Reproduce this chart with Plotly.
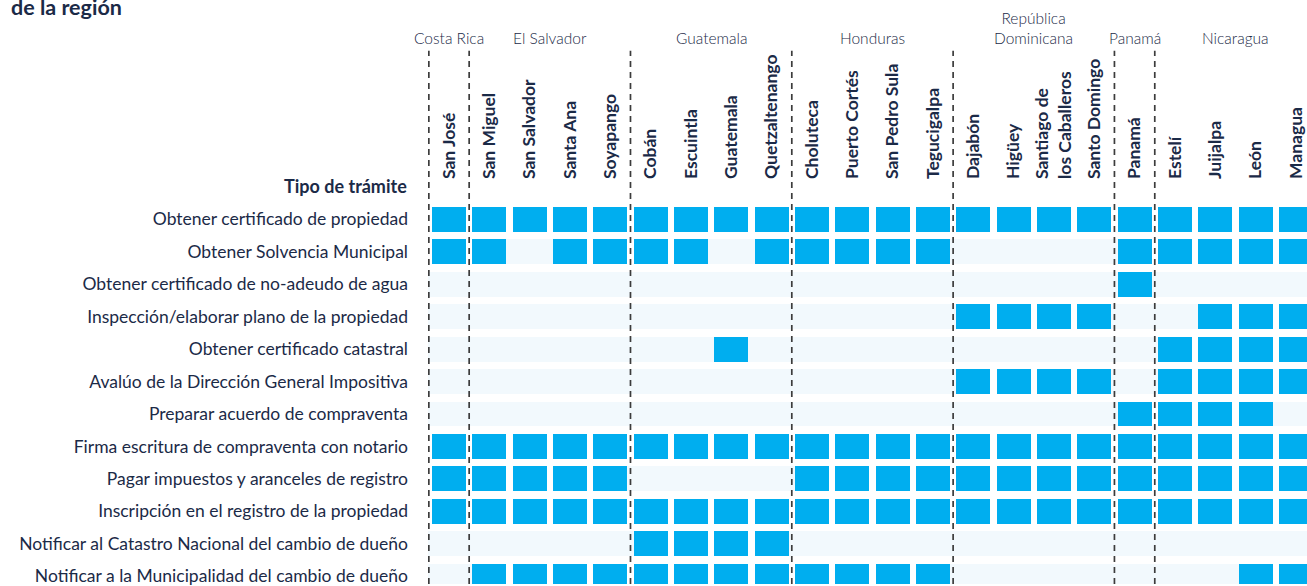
import plotly.graph_objects as go

# ---------------- data ----------------
title_text = "de la región"
row_header = "Tipo de trámite"

tramites = [
    "Obtener certificado de propiedad",
    "Obtener Solvencia Municipal",
    "Obtener certificado de no-adeudo de agua",
    "Inspección/elaborar plano de la propiedad",
    "Obtener certificado catastral",
    "Avalúo de la Dirección General Impositiva",
    "Preparar acuerdo de compraventa",
    "Firma escritura de compraventa con notario",
    "Pagar impuestos y aranceles de registro",
    "Inscripción en el registro de la propiedad",
    "Notificar al Catastro Nacional del cambio de dueño",
    "Notificar a la Municipalidad del cambio de dueño",
]

cities = [
    "San José",
    "San Miguel", "San Salvador", "Santa Ana", "Soyapango",
    "Cobán", "Escuintla", "Guatemala", "Quetzaltenango",
    "Choluteca", "Puerto Cortés", "San Pedro Sula", "Tegucigalpa",
    "Dajabón", "Higüey", "Santiago de<br>los Caballeros", "Santo Domingo",
    "Panamá",
    "Estelí", "Juijalpa", "León", "Managua",
]

countries = ["Costa Rica", "El Salvador", "Guatemala", "Honduras",
             "República<br>Dominicana", "Panamá", "Nicaragua"]
cities_per_country = [1, 4, 4, 4, 4, 1, 4]

# 1 = trámite required in that city (columns follow `cities`)
#            CR  El Salvador  Guatemala   Honduras    Rep. Dom.   PA  Nicaragua
req_01 = [1, 1, 1, 1, 1, 1, 1, 1, 1, 1, 1, 1, 1, 1, 1, 1, 1, 1, 1, 1, 1, 1]
req_02 = [1, 1, 0, 1, 1, 1, 1, 0, 1, 1, 1, 1, 1, 0, 0, 0, 0, 1, 1, 1, 1, 1]
req_03 = [0, 0, 0, 0, 0, 0, 0, 0, 0, 0, 0, 0, 0, 0, 0, 0, 0, 1, 0, 0, 0, 0]
req_04 = [0, 0, 0, 0, 0, 0, 0, 0, 0, 0, 0, 0, 0, 1, 1, 1, 1, 0, 0, 1, 1, 1]
req_05 = [0, 0, 0, 0, 0, 0, 0, 1, 0, 0, 0, 0, 0, 0, 0, 0, 0, 0, 1, 1, 1, 1]
req_06 = [0, 0, 0, 0, 0, 0, 0, 0, 0, 0, 0, 0, 0, 1, 1, 1, 1, 0, 1, 1, 1, 1]
req_07 = [0, 0, 0, 0, 0, 0, 0, 0, 0, 0, 0, 0, 0, 0, 0, 0, 0, 1, 1, 1, 1, 0]
req_08 = [1, 1, 1, 1, 1, 1, 1, 1, 1, 1, 1, 1, 1, 1, 1, 1, 1, 1, 1, 1, 1, 1]
req_09 = [1, 1, 1, 1, 1, 0, 0, 0, 0, 1, 1, 1, 1, 1, 1, 1, 1, 1, 1, 1, 1, 1]
req_10 = [1, 1, 1, 1, 1, 1, 1, 1, 1, 1, 1, 1, 1, 1, 1, 1, 1, 1, 1, 1, 1, 1]
req_11 = [0, 0, 0, 0, 0, 1, 1, 1, 1, 0, 0, 0, 0, 0, 0, 0, 0, 0, 0, 0, 0, 0]
req_12 = [0, 1, 1, 1, 1, 1, 1, 1, 1, 1, 1, 1, 1, 0, 0, 0, 0, 0, 0, 0, 1, 1]

requirements = [req_01, req_02, req_03, req_04, req_05, req_06,
                req_07, req_08, req_09, req_10, req_11, req_12]

# ---------------- styling / geometry ----------------
W, H = 1307, 586
BLUE = "#00AEEF"
LIGHT = "#F2F9FD"
NAVY = "#1B2A47"
FONT = "Lato"

col_pitch = 40.33      # px per column
row_pitch = 32.6       # px per row
cell_w_px = 34
cell_h_px = 25
first_col_center_px = 449
first_row_center_px = 219.5

m_l, m_r, m_t, m_b = 428, 0, 192, 0
plot_w = W - m_l - m_r
plot_h = H - m_t - m_b

x_range = [(m_l - first_col_center_px) / col_pitch,
           (W - m_r - first_col_center_px) / col_pitch]
y_range = [(H - m_b - first_row_center_px) / row_pitch,
           (m_t - first_row_center_px) / row_pitch]

cw = cell_w_px / col_pitch
gap = (col_pitch - cell_w_px) / col_pitch
ch = cell_h_px / row_pitch


def py(p):
    """pixel y (from top) -> paper y"""
    return (H - m_b - p) / plot_h


def px(p):
    """pixel x (from left) -> paper x"""
    return (p - m_l) / plot_w


# cells
on_y, on_base, on_len = [], [], []
off_y, off_base, off_len = [], [], []
for r, row in enumerate(requirements):
    for c, v in enumerate(row):
        if v:
            on_y.append(r); on_base.append(c - cw / 2); on_len.append(cw)
        else:
            off_y.append(r); off_base.append(c - cw / 2 - gap); off_len.append(cw + 2 * gap)

fig = go.Figure()
fig.add_trace(go.Bar(orientation="h", y=off_y, x=off_len, base=off_base,
                     width=ch, marker=dict(color=LIGHT, line=dict(width=0)),
                     hoverinfo="skip", showlegend=False))
fig.add_trace(go.Bar(orientation="h", y=on_y, x=on_len, base=on_base,
                     width=ch, marker=dict(color=BLUE, line=dict(width=0)),
                     hoverinfo="skip", showlegend=False))

# country separators and labels
shapes, annotations = [], []
start = 0
for name, n in zip(countries, cities_per_country):
    shapes.append(dict(type="line", xref="x", yref="paper",
                       x0=start - 0.5, x1=start - 0.5, y0=0, y1=py(50),
                       line=dict(color="#3c3c3c", width=1.7, dash="6px,5px"),
                       layer="above"))
    annotations.append(dict(text=name, xref="x", yref="paper",
                            x=start + (n - 1) / 2, y=py(48),
                            xanchor="center", yanchor="bottom", showarrow=False,
                            font=dict(family=FONT, size=15.5, color=NAVY, weight=300)))
    start += n

annotations.append(dict(text=row_header, xref="paper", yref="paper",
                        x=px(409), y=py(186), xanchor="right", yanchor="middle",
                        showarrow=False,
                        font=dict(family=FONT, size=18, color=NAVY, weight=700)))
annotations.append(dict(text=title_text, xref="paper", yref="paper",
                        x=px(9), y=py(21), xanchor="left", yanchor="bottom",
                        showarrow=False,
                        font=dict(family=FONT, size=21.5, color=NAVY, weight=700)))

fig.update_layout(
    width=W, height=H,
    margin=dict(l=m_l, r=m_r, t=m_t, b=m_b, pad=0),
    paper_bgcolor="white", plot_bgcolor="white",
    barmode="overlay", bargap=0,
    shapes=shapes, annotations=annotations,
    xaxis=dict(range=x_range, side="top", tickmode="array",
               tickvals=list(range(len(cities))), ticktext=cities,
               tickangle=-90, ticks="", showgrid=False, zeroline=False,
               showline=False, ticklabelstandoff=12, ticklabeloverflow="allow",
               tickfont=dict(family=FONT, size=17.5, color=NAVY, weight=700)),
    yaxis=dict(range=y_range, tickmode="array",
               tickvals=list(range(len(tramites))), ticktext=tramites,
               ticks="", showgrid=False, zeroline=False, showline=False,
               ticklabelstandoff=19, ticklabeloverflow="allow",
               tickfont=dict(family=FONT, size=17.5, color=NAVY)),
)

fig.write_html("out.html",
               config={"displayModeBar": False},
               post_script="document.body.style.margin='0px';"
                           "document.body.style.overflow='hidden';")
